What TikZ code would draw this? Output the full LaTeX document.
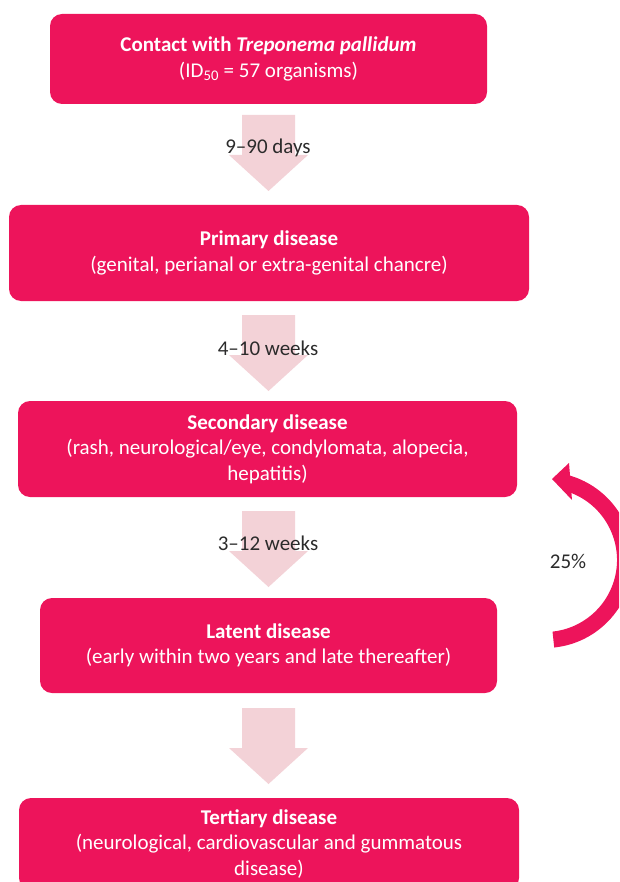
\documentclass[tikz,border=0pt]{standalone}
\usepackage{fontspec}
\setmainfont{Carlito}
\definecolor{boxmag}{HTML}{ED145B}
\definecolor{arrpink}{HTML}{F3D2D7}
\definecolor{lbl}{HTML}{2B2B2B}
\begin{document}
\begin{tikzpicture}[x=1pt,y=1pt,
  stagebox/.style={fill=boxmag, rounded corners=12pt, text=white, align=center,
    inner sep=0pt, font=\fontsize{21}{25.5}\selectfont},
  steplabel/.style={text=lbl, inner sep=0pt, font=\fontsize{21}{25}\selectfont},
  downarrow/.pic={\fill[arrpink] (-26.5,0) -- (26.5,0) -- (26.5,-40) -- (39.5,-40)
    -- (0,-76) -- (-39.5,-40) -- (-26.5,-40) -- cycle;}]
\useasboundingbox (0,0) rectangle (619,-882);
\clip (0,0) rectangle (619,-882);

% stage boxes
\node[stagebox, minimum width=437pt, minimum height=90pt] (b1) at (268.5,-59)
  {\textbf{Contact with \textit{Treponema pallidum}}\\(ID\textsubscript{50} = 57 organisms)};
\node[stagebox, minimum width=520pt, minimum height=96pt] (b2) at (269,-253)
  {\textbf{Primary disease}\\(genital, perianal or extra-genital chancre)};
\node[stagebox, minimum width=499pt, minimum height=96pt] (b3) at (267.5,-449)
  {\textbf{Secondary disease}\\(rash, neurological/eye, condylomata, alopecia,\\hepatitis)};
\node[stagebox, minimum width=457pt, minimum height=95pt] (b4) at (268.5,-645.5)
  {\textbf{Latent disease}\\(early within two years and late thereafter)};
\node[stagebox, minimum width=500pt, minimum height=92pt] (b5) at (269,-844)
  {\textbf{Tertiary disease}\\(neurological, cardiovascular and gummatous\\disease)};

% block arrows between stages
\pic at (268.5,-115) {downarrow};
\pic at (268.5,-315) {downarrow};
\pic at (268.5,-511) {downarrow};
\pic at (268.5,-708) {downarrow};

% interval labels
\node[steplabel] (l1) at (268,-148) {9–90 days};
\node[steplabel] (l2) at (268,-348) {4–10 weeks};
\node[steplabel] (l3) at (268,-543) {3–12 weeks};

% relapse arrow (latent -> secondary)
\coordinate (cc) at (545,-560);
\fill[boxmag] ([shift={(cc)}]-84:88) arc[start angle=-84, end angle=74, radius=88pt]
  -- ([shift={(cc)}]74:72) arc[start angle=74, end angle=-84, radius=72pt] -- cycle;
\fill[boxmag] (552,-479) -- (569,-463) -- (572,-500) -- cycle;
\node[steplabel] (pct) at (568,-561) {25\%};
\end{tikzpicture}
\end{document}
